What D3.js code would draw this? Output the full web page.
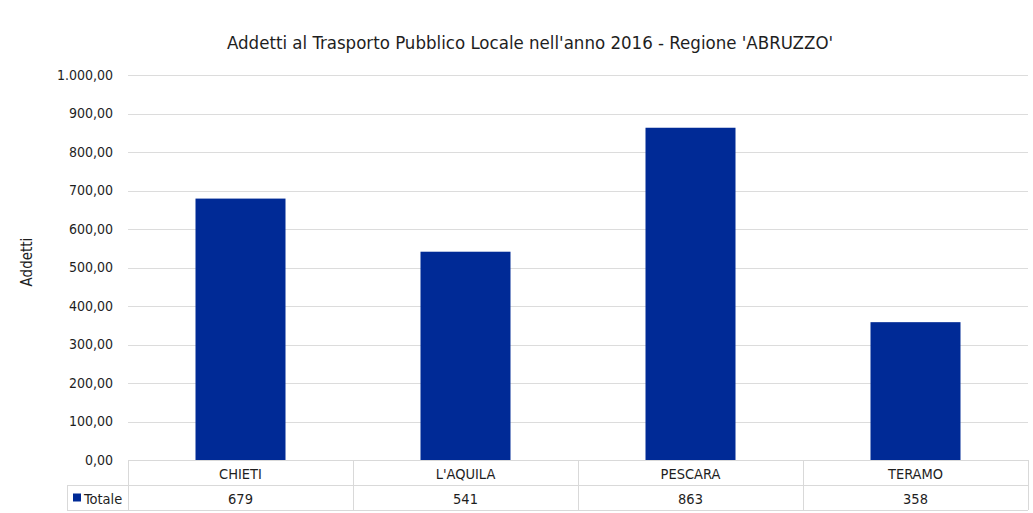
<!DOCTYPE html>
<html><head><meta charset="utf-8">
<script src="https://cdn.jsdelivr.net/npm/d3@7"></script>
<style>
html,body{margin:0;padding:0;background:#fff;}
text{font-family:"Liberation Sans Narrow","DejaVu Sans Condensed","Arial Narrow",sans-serif;fill:#1e1e1e;}
</style></head>
<body>
<svg id="chart" width="1033" height="513"></svg>
<script>
const title = "Addetti al Trasporto Pubblico Locale nell'anno 2016 - Regione 'ABRUZZO'";
const categories = ["CHIETI", "L'AQUILA", "PESCARA", "TERAMO"];
const values = [679, 541, 863, 358];
const seriesName = "Totale";
const yTicks = [0, 100, 200, 300, 400, 500, 600, 700, 800, 900, 1000];

(function () {
const svg = d3.select("#chart");
const pLeft = 128, pRight = 1028, pTop = 75, pBottom = 460;
const rowH = 25, legendLeft = 67;

const x = d3.scaleBand().domain(categories).range([pLeft, pRight]).paddingInner(0).paddingOuter(0);
const y = d3.scaleLinear().domain([0, 1000]).range([pBottom, pTop]);

const fmt = v => {
  const s = d3.format(",.2f")(v);
  return s.replace(/,/g, "#").replace(".", ",").replace(/#/g, ".");
};

// gridlines
svg.append("g").selectAll("line").data(yTicks.filter(d => d > 0)).join("line")
  .attr("x1", pLeft).attr("x2", pRight)
  .attr("y1", d => Math.round(y(d)) + 0.5).attr("y2", d => Math.round(y(d)) + 0.5)
  .attr("stroke", "#dcdcdc").attr("stroke-width", 1);

// y tick labels
svg.append("g").selectAll("text").data(yTicks).join("text")
  .attr("x", 113).attr("y", d => y(d)).attr("dy", "0.35em")
  .attr("text-anchor", "end").attr("font-size", 14)
  .text(fmt);

// bars
const barW = x.bandwidth() * 0.4;
svg.append("g").selectAll("rect").data(categories).join("rect")
  .attr("x", d => x(d) + (x.bandwidth() - barW) / 2)
  .attr("width", barW)
  .attr("y", (d, i) => y(values[i]))
  .attr("height", (d, i) => pBottom - y(values[i]))
  .attr("fill", "#002a96");

// title
svg.append("text").attr("x", 530).attr("y", 49).attr("text-anchor", "middle")
  .attr("font-size", 18.5).text(title);

// y axis label
svg.append("text").attr("transform", "translate(32,262) rotate(-90)")
  .attr("text-anchor", "middle").attr("font-size", 15).text("Addetti");

// data table
const tg = svg.append("g");
const line = (x1, y1, x2, y2) => tg.append("line")
  .attr("x1", x1).attr("y1", y1).attr("x2", x2).attr("y2", y2)
  .attr("stroke", "#d9d9d9").attr("stroke-width", 1);
line(pLeft, pBottom + 0.5, pRight, pBottom + 0.5);
line(legendLeft, pBottom + rowH + 0.5, pRight, pBottom + rowH + 0.5);
line(legendLeft, pBottom + 2 * rowH + 0.5, pRight, pBottom + 2 * rowH + 0.5);
line(legendLeft + 0.5, pBottom + rowH, legendLeft + 0.5, pBottom + 2 * rowH);
categories.forEach(c => line(Math.round(x(c)) + 0.5, pBottom, Math.round(x(c)) + 0.5, pBottom + 2 * rowH));
line(pRight + 0.5, pBottom, pRight + 0.5, pBottom + 2 * rowH);

tg.selectAll("text.cat").data(categories).join("text").attr("class", "cat")
  .attr("x", d => x(d) + x.bandwidth() / 2).attr("y", pBottom + rowH / 2 + 1).attr("dy", "0.35em")
  .attr("text-anchor", "middle").attr("font-size", 14.5).text(d => d);
tg.selectAll("text.val").data(values).join("text").attr("class", "val")
  .attr("x", (d, i) => x(categories[i]) + x.bandwidth() / 2).attr("y", pBottom + rowH * 1.5 + 1).attr("dy", "0.35em")
  .attr("text-anchor", "middle").attr("font-size", 14.5).text(d => d);

tg.append("rect").attr("x", 73).attr("y", pBottom + rowH * 1.5 - 4).attr("width", 8).attr("height", 8).attr("fill", "#002a96");
tg.append("text").attr("x", 84).attr("y", pBottom + rowH * 1.5 + 1).attr("dy", "0.35em")
  .attr("font-size", 14.5).text(seriesName);
})();
</script>
</body></html>
